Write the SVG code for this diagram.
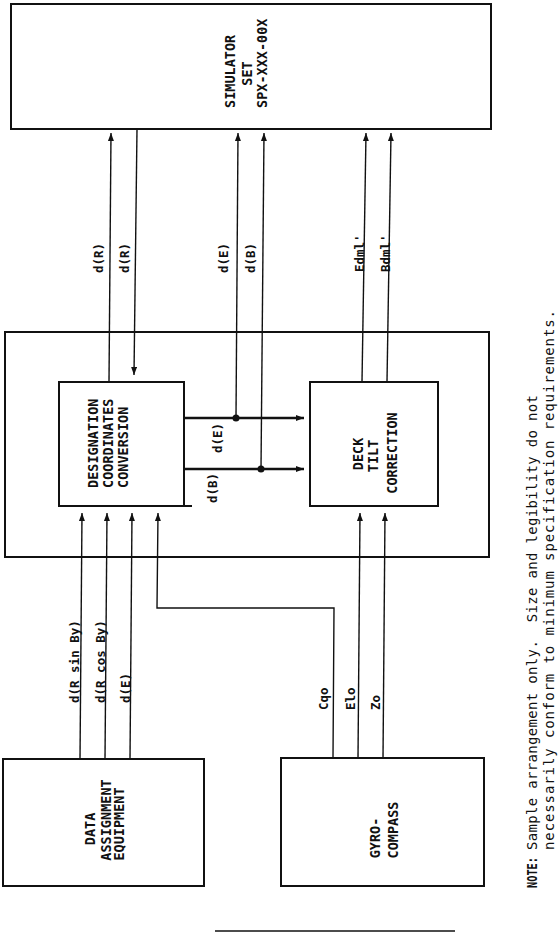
<svg xmlns="http://www.w3.org/2000/svg" width="558" height="935" viewBox="0 0 558 935">
<style>
.box{fill:#fff;stroke:#111;stroke-width:2}
.ln{fill:none;stroke:#111;stroke-width:1.4}
.thk{fill:none;stroke:#111;stroke-width:2.4}
.bl{font-family:"DejaVu Sans Mono","Liberation Mono",monospace;font-size:13.5px;font-weight:bold;fill:#111}
.cl{font-family:"DejaVu Sans Mono","Liberation Mono",monospace;font-size:12.5px;font-weight:bold;fill:#111}
.nt{font-family:"DejaVu Sans Mono","Liberation Mono",monospace;font-size:14px;fill:#111;white-space:pre}
</style>
<defs>
<marker id="ah" markerUnits="userSpaceOnUse" markerWidth="10" markerHeight="8" refX="8" refY="3" orient="auto">
<path d="M0,0 L8,3 L0,6 z" fill="#111"/>
</marker>
</defs>
<rect width="558" height="935" fill="#fff"/>

<g id="outer">
<rect class="box" x="5" y="332" width="484" height="225"/>
</g>

<g id="simulator">
<rect class="box" x="11" y="4" width="480" height="125"/>
<text class="bl" text-anchor="start" transform="translate(235,108) rotate(-90)">SIMULATOR</text>
<text class="bl" text-anchor="middle" transform="translate(252,73.5) rotate(-90)">SET</text>
<text class="bl" text-anchor="start" transform="translate(267,108) rotate(-90)">SPX-XXX-00X</text>
</g>

<g id="dcc">
<rect class="box" x="59" y="382" width="125" height="124"/>
<line class="box" x1="184" y1="506" x2="192" y2="506"/>
<text class="bl" text-anchor="start" transform="translate(98,488) rotate(-90)">DESIGNATION</text>
<text class="bl" text-anchor="start" transform="translate(113,488) rotate(-90)">COORDINATES</text>
<text class="bl" text-anchor="start" transform="translate(128,488) rotate(-90)">CONVERSION</text>
</g>

<g id="dtc">
<rect class="box" x="310" y="382" width="128" height="124"/>
<text class="bl" text-anchor="middle" transform="translate(363,454) rotate(-90)">DECK</text>
<text class="bl" text-anchor="middle" transform="translate(378,456) rotate(-90)">TILT</text>
<text class="bl" text-anchor="middle" transform="translate(397,453) rotate(-90)">CORRECTION</text>
</g>

<g id="dae">
<rect class="box" x="3" y="759" width="201" height="127"/>
<text class="bl" text-anchor="middle" transform="translate(95,829) rotate(-90)">DATA</text>
<text class="bl" text-anchor="middle" transform="translate(111,820) rotate(-90)">ASSIGNMENT</text>
<text class="bl" text-anchor="middle" transform="translate(124,824) rotate(-90)">EQUIPMENT</text>
</g>

<g id="gyro">
<rect class="box" x="281" y="758" width="203" height="128"/>
<text class="bl" text-anchor="middle" transform="translate(380,838) rotate(-90)">GYRO-</text>
<text class="bl" text-anchor="middle" transform="translate(398,830) rotate(-90)">COMPASS</text>
</g>

<g id="connectors">
<line class="ln" x1="109" y1="382" x2="111" y2="133" marker-end="url(#ah)"/>
<line class="ln" x1="137" y1="129" x2="134" y2="375" marker-end="url(#ah)"/>
<line class="ln" x1="236" y1="418" x2="238" y2="133" marker-end="url(#ah)"/>
<line class="ln" x1="261" y1="469" x2="264" y2="133" marker-end="url(#ah)"/>
<line class="ln" x1="362" y1="382" x2="366" y2="133" marker-end="url(#ah)"/>
<line class="ln" x1="387" y1="382" x2="391" y2="133" marker-end="url(#ah)"/>
<line class="thk" x1="184" y1="418" x2="304" y2="418" marker-end="url(#ah)"/>
<line class="thk" x1="184" y1="469" x2="304" y2="469" marker-end="url(#ah)"/>
<circle cx="236" cy="418" r="3.5" fill="#111"/>
<circle cx="261" cy="469" r="3.5" fill="#111"/>
<line class="ln" x1="80" y1="759" x2="82" y2="513" marker-end="url(#ah)"/>
<line class="ln" x1="105" y1="759" x2="107" y2="513" marker-end="url(#ah)"/>
<line class="ln" x1="130" y1="759" x2="132" y2="513" marker-end="url(#ah)"/>
<polyline class="ln" points="333,758 334,608 157,608 158,513" marker-end="url(#ah)"/>
<line class="ln" x1="358" y1="758" x2="360" y2="513" marker-end="url(#ah)"/>
<line class="ln" x1="383" y1="758" x2="385" y2="513" marker-end="url(#ah)"/>
</g>

<g id="labels">
<text class="cl" transform="translate(103,273) rotate(-90)">d(R)</text>
<text class="cl" transform="translate(129,273) rotate(-90)">d(R)</text>
<text class="cl" transform="translate(228,273) rotate(-90)">d(E)</text>
<text class="cl" transform="translate(255,273) rotate(-90)">d(B)</text>
<text class="cl" transform="translate(364,272) rotate(-90)">Edml'</text>
<text class="cl" transform="translate(390,272) rotate(-90)">Bdml'</text>
<text class="cl" transform="translate(222,453) rotate(-90)">d(E)</text>
<text class="cl" transform="translate(217,503) rotate(-90)">d(B)</text>
<text class="cl" transform="translate(79,703) rotate(-90)">d(R sin By)</text>
<text class="cl" transform="translate(105,703) rotate(-90)">d(R cos By)</text>
<text class="cl" transform="translate(130,703) rotate(-90)">d(E)</text>
<text class="cl" transform="translate(328,710) rotate(-90)">Cqo</text>
<text class="cl" transform="translate(355,710) rotate(-90)">Elo</text>
<text class="cl" transform="translate(380,710) rotate(-90)">Zo</text>
</g>

<g id="note">
<text class="nt" font-weight="bold" textLength="31" lengthAdjust="spacingAndGlyphs" transform="translate(537,888) rotate(-90)">NOTE:</text>
<text class="nt" textLength="455" lengthAdjust="spacing" transform="translate(537,850) rotate(-90)">Sample arrangement only.  Size and legibility do not</text>
<text class="nt" textLength="540" lengthAdjust="spacing" transform="translate(554,850) rotate(-90)">necessarily conform to minimum specification requirements.</text>
</g>

<line x1="215" y1="931" x2="455" y2="931" stroke="#111" stroke-width="1.5"/>
</svg>
